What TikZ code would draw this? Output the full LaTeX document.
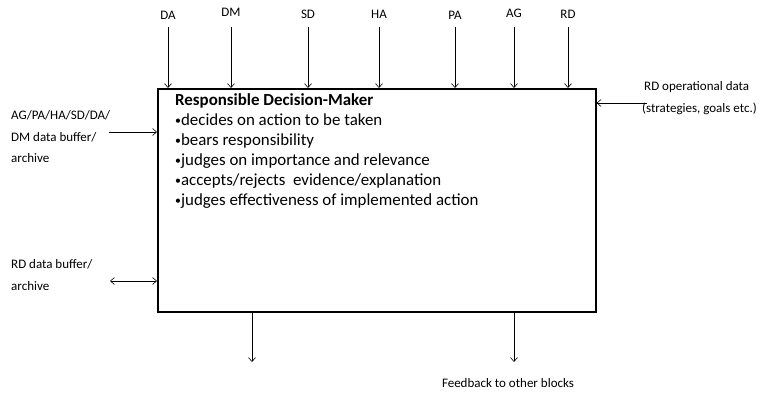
\documentclass[tikz,border=0pt]{standalone}
\usepackage{fontspec}
\setmainfont{Carlito}
\usetikzlibrary{arrows.meta}
\newcommand{\itemdot}{\raisebox{0.12ex}{\scalebox{0.7}{\textbullet}}}
\begin{document}
\begin{tikzpicture}[x=1pt,y=-1pt,
  flow/.style={line width=0.6pt,-{Straight Barb[length=4pt,width=7pt]}},
  both/.style={line width=0.6pt,{Straight Barb[length=4pt,width=7pt]}-{Straight Barb[length=4pt,width=7pt]}},
  small/.style={font=\fontsize{13}{21.5}\selectfont,inner sep=0pt},
  body/.style={font=\fontsize{16.9}{20}\selectfont,inner sep=0pt,anchor=base west},
  block/.style={draw,line width=1.6pt,minimum width=438pt,minimum height=223pt,inner sep=0pt}]
\useasboundingbox (0,0) rectangle (762,394);

% main block
\node[block,anchor=north west] (box) at (157,88) {};

% block contents
\node[body] (title) at (175,105) {\textbf{Responsible Decision-Maker}};
\node[body] (b1) at (175,125) {\itemdot decides on action to be taken};
\node[body] (b2) at (175,145) {\itemdot bears responsibility};
\node[body] (b3) at (175,165) {\itemdot judges on importance and relevance};
\node[body] (b4) at (175,185) {\itemdot accepts/rejects\ \ evidence/explanation};
\node[body] (b5) at (175,205.5) {\itemdot judges effectiveness of implemented action};

% inputs from the top
\foreach \name/\x/\y in {DA/168/15,DM/231/12,SD/308/14,HA/379/14,PA/455/15,AG/514/13,RD/568/14}{
  \node[small] (in\name) at (\x,\y) {\name};
  \coordinate (s\name) at (\x,27);
  \draw[flow] (s\name) -- (s\name |- box.north);
}

% left inputs
\node[small,anchor=west,align=left] (lbuf) at (11,137) {AG/PA/HA/SD/DA/\\DM data buffer/\\archive};
\coordinate (lbufend) at (109,132);
\draw[flow] (lbufend) -- (lbufend -| box.west);

\node[small,anchor=west,align=left] (rdbuf) at (11,275) {RD data buffer/\\archive};
\coordinate (rdbufend) at (110,281);
\draw[both] (rdbufend) -- (rdbufend -| box.west);

% right input
\node[small,anchor=west,align=left] (ops) at (642,98) {\hspace{2pt}RD operational data\\(strategies, goals etc.)};
\coordinate (opsend) at (647,103);
\draw[flow] (opsend) -- (opsend -| box.east);

% outputs at the bottom
\coordinate (out1) at (252,362);
\coordinate (out2) at (514,362);
\draw[flow] (out1 |- box.south) -- (out1);
\draw[flow] (out2 |- box.south) -- (out2);
\node[small] (fb) at (508,383) {Feedback to other blocks};
\end{tikzpicture}
\end{document}
